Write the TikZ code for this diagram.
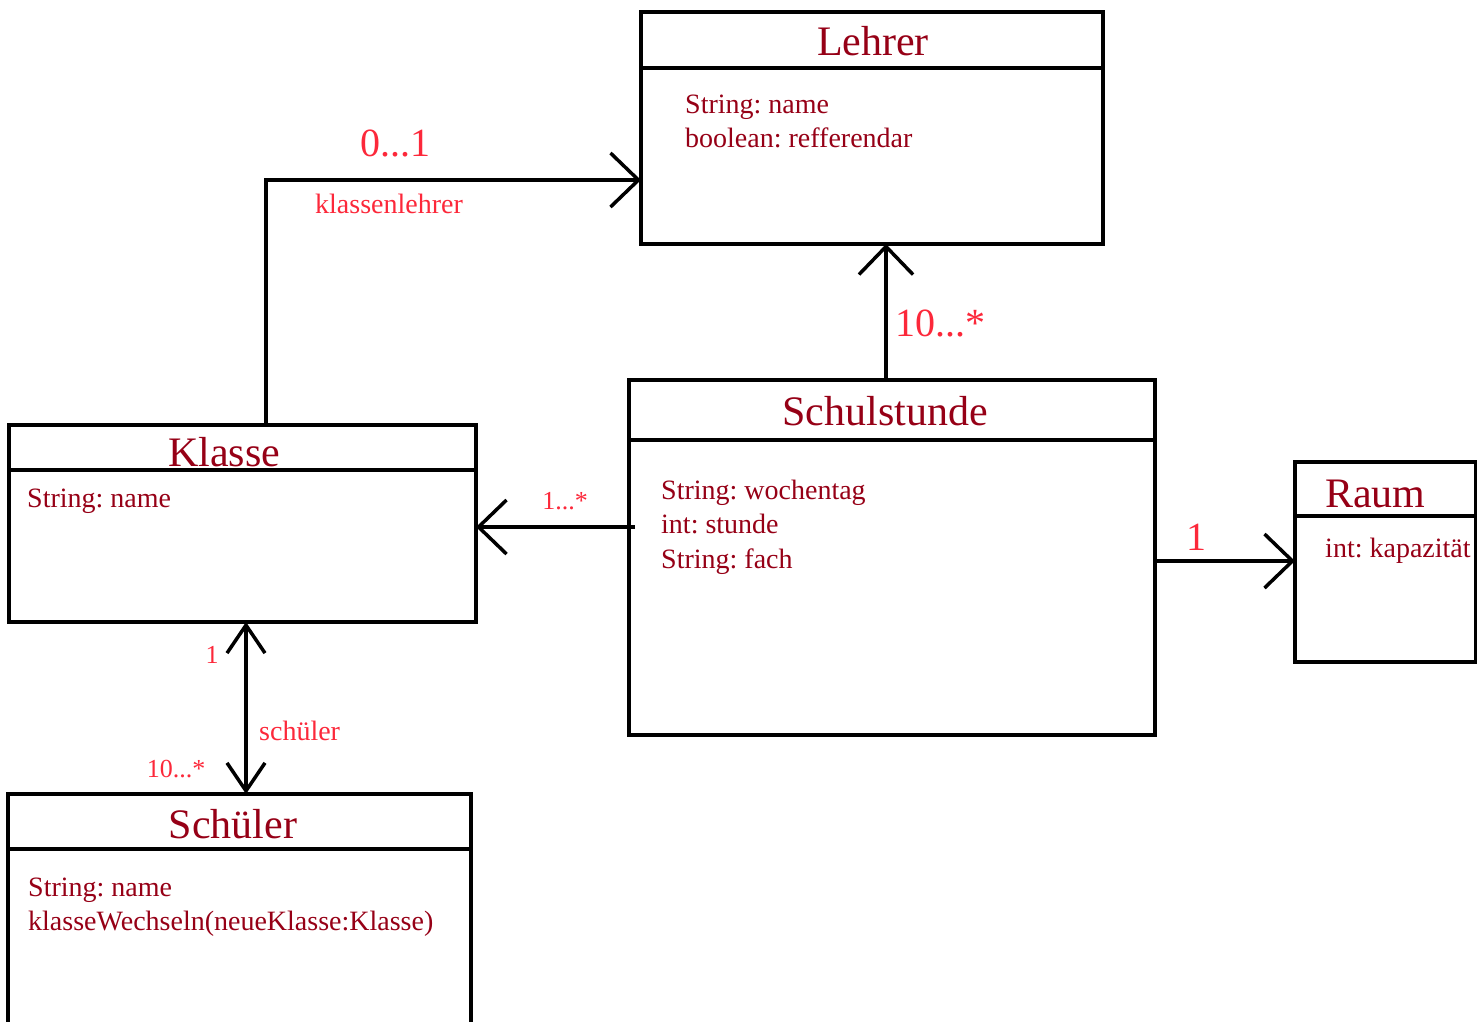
\documentclass[tikz,border=0pt]{standalone}
\usepackage{fontspec}
\setmainfont{Liberation Serif}
\frenchspacing
\usetikzlibrary{arrows.meta}
\definecolor{titlered}{RGB}{150,0,22}
\definecolor{attrred}{RGB}{150,0,22}
\definecolor{labelred}{RGB}{252,40,58}
\tikzset{
  x=1pt, y=-1pt,
  classbox/.style={draw, line width=3.5pt, anchor=north west, inner sep=0pt, outer sep=0pt},
  divider/.style={line width=3.5pt},
  classtitle/.style={text=titlered, font=\fontsize{42}{46}\selectfont, anchor=base, inner sep=0pt},
  attr/.style={text=attrred, font=\fontsize{28}{32}\selectfont, anchor=base west, inner sep=0pt},
  biglabel/.style={text=labelred, font=\fontsize{40}{44}\selectfont, inner sep=0pt},
  smalllabel/.style={text=labelred, font=\fontsize{26}{30}\selectfont, inner sep=0pt},
  midlabel/.style={text=labelred, font=\fontsize{28}{32}\selectfont, inner sep=0pt},
  assoc/.style={line width=3.5pt, -{Straight Barb[length=28pt,width=54pt]}},
  assocboth/.style={line width=3.5pt, {Straight Barb[length=28pt,width=38pt]}-{Straight Barb[length=28pt,width=38pt]}}
}
\begin{document}
\begin{tikzpicture}
\useasboundingbox (0,0) rectangle (1477,1021);

% class boxes
\node[classbox, minimum width=462pt, minimum height=232pt] (lehrer) at (641,12) {};
\node[classbox, minimum width=467pt, minimum height=197pt] (klasse) at (9,425) {};
\node[classbox, minimum width=526pt, minimum height=355pt] (stunde) at (629,380) {};
\node[classbox, minimum width=181pt, minimum height=200pt] (raum) at (1295,462) {};
\node[classbox, minimum width=463pt, minimum height=240pt] (schueler) at (8,794) {};

% compartment dividers
\draw[divider] (641,68) -- (1105,68);
\draw[divider] (7,470) -- (476,470);
\draw[divider] (629,440) -- (1155,440);
\draw[divider] (1295,516) -- (1477,516);
\draw[divider] (6,849) -- (473,849);

% class names
\node[classtitle] (lehrerT) at (873,55) {Lehrer};
\node[classtitle] (klasseT) at (224,466) {Klasse};
\node[classtitle] (stundeT) at (885,425) {Schulstunde};
\node[classtitle, anchor=base west] (raumT) at (1325,507) {Raum};
\node[classtitle] (schuelerT) at (233,838) {Schüler};

% attributes and operations
\node[attr] (lehrerA1) at (685,113) {String: name};
\node[attr] (lehrerA2) at (685,147) {boolean: refferendar};
\node[attr] (klasseA1) at (27,507) {String: name};
\node[attr] (stundeA1) at (661,499) {String: wochentag};
\node[attr] (stundeA2) at (661,533) {int: stunde};
\node[attr] (stundeA3) at (661,568) {String: fach};
\node[attr] (raumA1) at (1325,557) {int: kapazität};
\node[attr] (schuelerA1) at (28,896) {String: name};
\node[attr] (schuelerA2) at (28,930) {klasseWechseln(neueKlasse:Klasse)};

% associations
\draw[assoc] (klasse.north -| 266,0) |- (lehrer.west |- 0,180);
\draw[assoc] (stunde.north -| 886,0) -- (lehrer.south -| 886,0);
\draw[assoc] (stunde.west |- 0,527) ++(6,0) -- (klasse.east |- 0,527);
\draw[assoc] (stunde.east |- 0,561) -- (raum.west |- 0,561);
\draw[assocboth] (klasse.south -| 246,0) -- (schueler.north -| 246,0);

% multiplicities and role names
\node[biglabel, anchor=base] (m1) at (395,156) {0...1};
\node[midlabel, anchor=base] (r1) at (389,213) {klassenlehrer};
\node[biglabel, anchor=base west] (m2) at (895,336) {10...*};
\node[smalllabel, anchor=base] (m3) at (565,509) {1...*};
\node[biglabel, anchor=base] (m4) at (1196,550) {1};
\node[smalllabel, anchor=base] (m5) at (212,663) {1};
\node[midlabel, anchor=base west] (r2) at (259,740) {schüler};
\node[smalllabel, anchor=base] (m6) at (176,777) {10...*};
\end{tikzpicture}
\end{document}
